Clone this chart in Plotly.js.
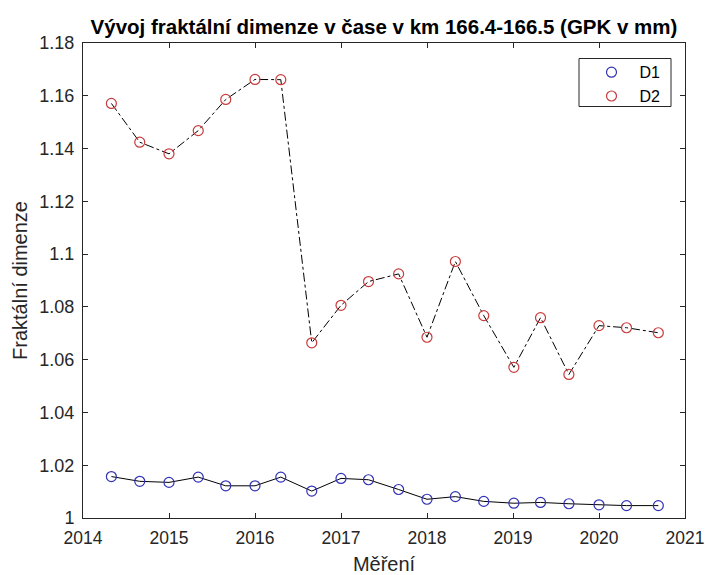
<!DOCTYPE html>
<html>
<head>
<meta charset="utf-8">
<script src="https://cdn.plot.ly/plotly-3.0.1.min.js"></script>
<style>html,body{margin:0;padding:0;background:#fff;}#chart{width:705px;height:575px;}</style>
</head>
<body>
<div id="chart"></div>
<script>
// Measurement dates (decimal years)
const dates = [2014.33, 2014.66, 2015.0, 2015.34, 2015.66, 2016.0, 2016.3, 2016.66, 2017.0, 2017.32,
               2017.67, 2018.0, 2018.33, 2018.66, 2019.01, 2019.32, 2019.65, 2020.0, 2020.32, 2020.69];
// Fractal dimension series
const D1 = [1.0157, 1.0139, 1.0135, 1.0155, 1.0122, 1.0122, 1.0155, 1.0102, 1.0150, 1.0145,
            1.0108, 1.0071, 1.0081, 1.0063, 1.0056, 1.0059, 1.0054, 1.0050, 1.0047, 1.0047];
const D2 = [1.1571, 1.1424, 1.1380, 1.1468, 1.1586, 1.1662, 1.1661, 1.0664, 1.0806, 1.0896,
            1.0925, 1.0685, 1.0972, 1.0767, 1.0571, 1.0759, 1.0544, 1.0729, 1.0721, 1.0702];
// Tick labels
const xTickVals = [2014, 2015, 2016, 2017, 2018, 2019, 2020, 2021];
const xTickText = ['2014', '2015', '2016', '2017', '2018', '2019', '2020', '2021'];
const yTickVals = [1, 1.02, 1.04, 1.06, 1.08, 1.1, 1.12, 1.14, 1.16, 1.18];
const yTickText = ['1', '1.02', '1.04', '1.06', '1.08', '1.1', '1.12', '1.14', '1.16', '1.18'];
const seriesNames = ['D1', 'D2'];

const FONT = 'Liberation Sans, Arial, sans-serif';
const AX = '#262626';
const blue = '#3232b4';
const red = '#c83c3c';

// plot-area geometry helpers (pixels -> paper)
const PL = 83, PW = 602, PB = 517.5, PH = 475;
const px = v => (v - PL) / PW;
const py = v => (PB - v) / PH;

const traces = [
  {x: dates, y: D1, mode: 'lines', line: {color: '#000', width: 1, dash: 'solid'}, showlegend: false, hoverinfo: 'skip'},
  {x: dates, y: D2, mode: 'lines', line: {color: '#000', width: 1, dash: 'dashdot'}, showlegend: false, hoverinfo: 'skip'},
  {x: dates, y: D1, name: seriesNames[0], mode: 'markers',
   marker: {symbol: 'circle-open', size: 10, color: blue, line: {width: 1.2, color: blue}}},
  {x: dates, y: D2, name: seriesNames[1], mode: 'markers',
   marker: {symbol: 'circle-open', size: 10, color: red, line: {width: 1.2, color: red}}}
];

const layout = {
  width: 705, height: 575,
  margin: {l: 83, r: 20, t: 43, b: 57, pad: 0},
  paper_bgcolor: '#fff', plot_bgcolor: '#fff',
  font: {family: FONT, color: AX, size: 18},
  title: {
    text: '<b>Vývoj fraktální dimenze v čase v km 166.4-166.5 (GPK v mm)</b>',
    font: {family: FONT, size: 20.5, color: '#000'},
    x: 0.5, xref: 'paper', xanchor: 'center',
    y: 1 - 27 / 575, yref: 'container', yanchor: 'middle'
  },
  xaxis: {
    range: [2014, 2021], tickvals: xTickVals, ticktext: xTickText,
    showgrid: false, zeroline: false,
    showline: true, linecolor: AX, linewidth: 1, mirror: 'ticks',
    ticks: 'inside', ticklen: 5, tickcolor: AX, tickwidth: 1,
    tickfont: {family: FONT, size: 17.5, color: AX},
    ticklabelstandoff: 4, ticklabeloverflow: 'allow',
    title: {text: 'Měření', font: {family: FONT, size: 20, color: AX}, standoff: 9}
  },
  yaxis: {
    range: [1, 1.18], tickvals: yTickVals, ticktext: yTickText,
    showgrid: false, zeroline: false,
    showline: true, linecolor: AX, linewidth: 1, mirror: 'ticks',
    ticks: 'inside', ticklen: 5, tickcolor: AX, tickwidth: 1,
    tickfont: {family: FONT, size: 18, color: AX},
    ticklabelstandoff: 4, ticklabeloverflow: 'allow',
    title: {text: 'Fraktální dimenze', font: {family: FONT, size: 20, color: AX}, standoff: 6}
  },
  legend: {
    x: px(583.5), y: py(54.8), xanchor: 'left', yanchor: 'top',
    bgcolor: 'rgba(0,0,0,0)', borderwidth: 0,
    font: {family: FONT, size: 16, color: '#000'},
    itemwidth: 46, tracegroupgap: 0
  },
  shapes: [{
    type: 'rect', xref: 'paper', yref: 'paper', layer: 'below',
    x0: px(579), x1: px(671), y0: py(106), y1: py(58),
    line: {color: AX, width: 1}, fillcolor: '#fff'
  }],
  showlegend: true
};

Plotly.newPlot('chart', traces, layout, {displayModeBar: false, staticPlot: true});
</script>
</body>
</html>
